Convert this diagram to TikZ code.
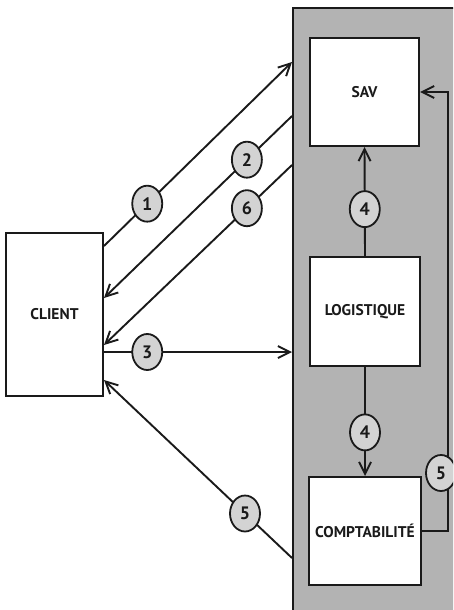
\documentclass[tikz,border=0pt]{standalone}
\usepackage{fontspec}
\setmainfont{PT Sans}
\usetikzlibrary{arrows.meta,shapes.geometric}
\definecolor{orgPanel}{HTML}{B3B3B3}
\definecolor{orgStep}{HTML}{D3D3D3}
\definecolor{orgInk}{HTML}{1A1A1A}

\begin{document}
\begin{tikzpicture}[x=1pt,y=-1pt,draw=orgInk,text=orgInk,
  font=\bfseries\fontsize{15.5}{18}\selectfont,
  service/.style={draw,fill=white,line width=2pt,inner sep=0pt},
  stepmark/.style={ellipse,draw,fill=orgStep,line width=1.8pt,minimum width=30pt,
    minimum height=36pt,inner sep=0pt,font=\bfseries\fontsize{18}{20}\selectfont},
  flow/.style={line width=1.9pt,-{Straight Barb[length=12pt,width=12pt]}}]
  \path[use as bounding box] (0,0) rectangle (453,610);
  \clip (0,0) rectangle (453,610);

  % Company panel runs off the right and bottom edges.
  \node[draw,fill=orgPanel,line width=2pt,anchor=north west,
    minimum width=180pt,minimum height=620pt] (panel) at (292,7) {};

  \node[service,minimum width=97pt,minimum height=163pt] (client) at (54.5,314.5) {CLIENT};
  \node[service,minimum width=109pt,minimum height=108pt] (sav) at (364.5,92) {SAV};
  \node[service,minimum width=110pt,minimum height=109pt] (logistique) at (365,311.5) {LOGISTIQUE};
  \node[service,minimum width=112pt,minimum height=108pt] (compta) at (365,531) {COMPTABILITÉ};

  \foreach \n/\y in {1/246,2/298,6/345,3/352,5/380}
    {\coordinate (c\n) at (client.east |- 0,\y);}
  \foreach \n/\y in {1/62,2/116,6/165,3/352,5/558}
    {\coordinate (p\n) at (panel.west |- 0,\y);}
  \coordinate (loop) at (448,0);

  \draw[flow] (c1) -- node[stepmark,pos=0.23] (s1) {1} (p1);
  \draw[flow] (p2) -- node[stepmark,pos=0.24] (s2) {2} (c2);
  \draw[flow] (p6) -- node[stepmark,pos=0.24] (s6) {6} (c6);
  \draw[flow] (c3) -- node[stepmark,pos=0.23] (s3) {3} (p3);
  \draw[flow] (p5) -- node[stepmark,pos=0.25] (s5) {5} (c5);

  \draw[flow] (logistique.north) -- node[stepmark,pos=0.43] (s4a) {4} (sav.south);
  \draw[flow] (logistique.south) -- node[stepmark,pos=0.6] (s4b) {4} (compta.north);
  \draw[flow] (compta.east) -- (compta.east -| loop) -- (sav.east -| loop) -- (sav.east);
  \node[stepmark] (s5b) at (441,473) {5};
\end{tikzpicture}
\end{document}
